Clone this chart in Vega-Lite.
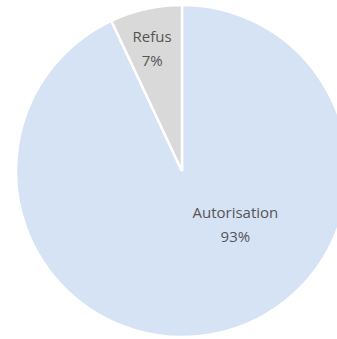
{
  "$schema": "https://vega.github.io/schema/vega-lite/v6.json",
  "width": 332,
  "height": 332,
  "autosize": "none",
  "padding": {"left": 16, "top": 5, "right": 0, "bottom": 0},
  "background": "white",
  "view": {"stroke": null},
  "data": {
    "values": [
      {"category": "Autorisation", "value": 93, "order": 1, "label": ["Autorisation", "93%"]},
      {"category": "Refus", "value": 7, "order": 2, "label": ["Refus", "7%"]}
    ]
  },
  "encoding": {
    "theta": {"field": "value", "type": "quantitative", "stack": true},
    "order": {"field": "order", "type": "quantitative"}
  },
  "layer": [
    {
      "mark": {"type": "arc", "outerRadius": 166, "stroke": "white", "strokeWidth": 2.5},
      "encoding": {
        "color": {
          "field": "category",
          "type": "nominal",
          "scale": {"domain": ["Autorisation", "Refus"], "range": ["#D5E3F5", "#D9D9D9"]},
          "legend": null
        }
      }
    },
    {
      "mark": {"type": "text", "radius": 137, "font": "Open Sans", "fontSize": 15, "fill": "#555555", "lineHeight": 24, "baseline": "middle"},
      "encoding": {
        "text": {"condition": {"test": "datum.category === 'Refus'", "field": "label"}, "value": ""}
      }
    },
    {
      "mark": {"type": "text", "radius": 43, "dx": 44, "font": "Open Sans", "fontSize": 15, "fill": "#555555", "lineHeight": 24, "baseline": "middle"},
      "encoding": {
        "text": {"condition": {"test": "datum.category === 'Autorisation'", "field": "label"}, "value": ""}
      }
    }
  ]
}
